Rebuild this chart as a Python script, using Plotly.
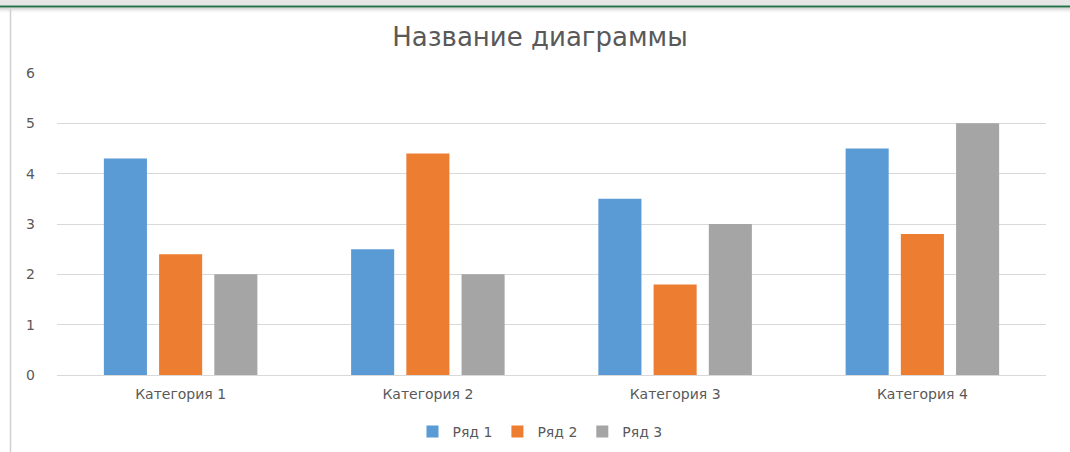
import plotly.graph_objects as go

categories = ["Категория 1", "Категория 2", "Категория 3", "Категория 4"]
series_names = ["Ряд 1", "Ряд 2", "Ряд 3"]
row1 = [4.3, 2.5, 3.5, 4.5]
row2 = [2.4, 4.4, 1.8, 2.8]
row3 = [2, 2, 3, 5]
colors = ["#5B9BD5", "#ED7D31", "#A5A5A5"]
y_ticks = [0, 1, 2, 3, 4, 5, 6]

FONT = "DejaVu Sans"
W, H = 1070, 452
L, R, T, B = 57, 24, 73, 77
PW, PH = W - L - R, H - T - B

def px(x):
    return (x - L) / PW

def py(y):
    return (H - B - y) / PH

fig = go.Figure()
for name, vals, col in zip(series_names, [row1, row2, row3], colors):
    fig.add_trace(go.Bar(x=categories, y=vals, name=name, marker_color=col,
                         marker_line_width=0))

shapes = [
    dict(type="rect", xref="paper", yref="paper", x0=px(-5), x1=px(W + 5),
         y0=py(-5), y1=py(5.5), fillcolor="#E6E6E6", line_width=0, layer="above"),
    dict(type="line", xref="paper", yref="paper", x0=px(-5), x1=px(W + 5),
         y0=py(6.5), y1=py(6.5), line=dict(color="#217346", width=2)),
]
for i, op in enumerate([0.35, 0.25, 0.16, 0.09, 0.04]):
    yy = 8 + i
    shapes.append(dict(type="line", xref="paper", yref="paper", x0=px(-5), x1=px(W + 5),
                       y0=py(yy), y1=py(yy), line=dict(color=f"rgba(120,120,120,{op})", width=1)))
shapes.append(dict(type="line", xref="paper", yref="paper", x0=px(10.5), x1=px(10.5),
                   y0=py(9), y1=py(H + 5), line=dict(color="#D0D0D0", width=1.5)))

fig.update_layout(
    width=W, height=H,
    margin=dict(l=L, r=R, t=T, b=B, autoexpand=False),
    paper_bgcolor="white", plot_bgcolor="white",
    barmode="group", bargap=0.33, bargroupgap=0.22,
    title=dict(text="Название диаграммы", x=540 / W, xanchor="center", xref="container",
               y=1 - 37 / H, yanchor="middle", yref="container",
               font=dict(family=FONT, size=26, color="#595959")),
    font=dict(family=FONT, color="#595959"),
    xaxis=dict(showgrid=False, showline=True, linecolor="#D9D9D9", linewidth=1,
               ticks="", tickfont=dict(size=14, color="#595959"), ticklabelstandoff=6),
    yaxis=dict(range=[0, 6], tickvals=y_ticks, showgrid=True, gridcolor="#D9D9D9",
               gridwidth=1, zeroline=False, showline=False, ticks="",
               tickfont=dict(size=14, color="#595959"), ticklabelstandoff=21),
    legend=dict(orientation="h", x=540 / W, xref="container", xanchor="center",
                y=1 - 432 / H, yref="container", yanchor="middle",
                font=dict(size=14, color="#595959"),
                itemwidth=30, traceorder="normal"),
    shapes=shapes,
)
fig.update_xaxes(automargin=False)
fig.update_yaxes(automargin=False)
fig.write_html("out.html")
